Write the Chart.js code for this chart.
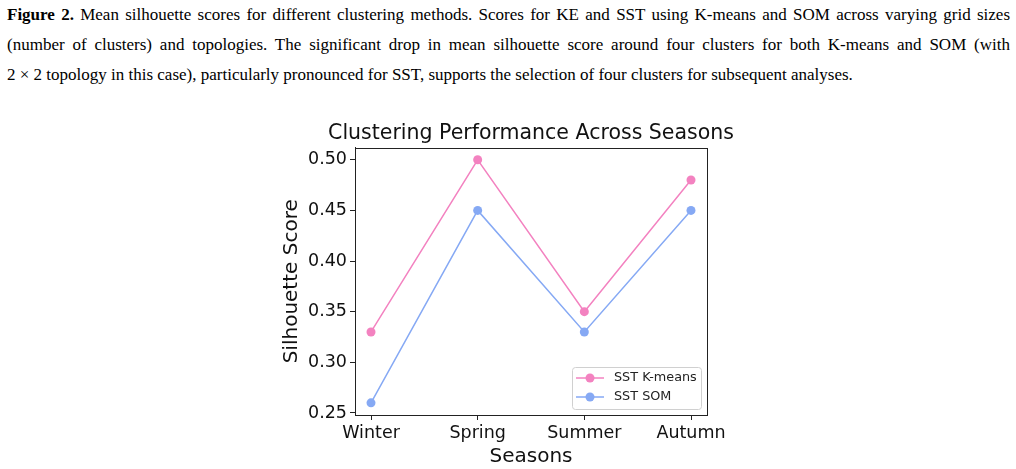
<!DOCTYPE html>
<html>
<head>
<meta charset="utf-8">
<script src="https://cdn.jsdelivr.net/npm/chart.js@4"></script>
<style>
  html, body { margin: 0; padding: 0; background: #fff; }
  body { width: 1016px; height: 469px; position: relative; overflow: hidden; }
  #caption {
    position: absolute; left: 7px; top: 0px; width: 1003px;
    font-family: "Liberation Serif", "Times New Roman", serif;
    font-size: 17px; line-height: 30px; color: #000;
  }
  #caption .ln { display: block; white-space: nowrap; text-align: justify; text-align-last: justify; }
  #caption .ln.last { text-align-last: left; }
  #chartBox { position: absolute; left: 280px; top: 110px; }
</style>
</head>
<body>
<div id="caption">
  <span class="ln"><b>Figure 2.</b> Mean silhouette scores for different clustering methods. Scores for KE and SST using K-means and SOM across varying grid sizes</span>
  <span class="ln">(number of clusters) and topologies. The significant drop in mean silhouette score around four clusters for both K-means and SOM (with</span>
  <span class="ln last">2 × 2 topology in this case), particularly pronounced for SST, supports the selection of four clusters for subsequent analyses.</span>
</div>
<div id="chartBox"><canvas id="chart" width="502" height="359"></canvas></div>
<script>
// chart values
const seasons = ['Winter', 'Spring', 'Summer', 'Autumn'];
const kmeansScores = [0.33, 0.50, 0.35, 0.48];
const somScores = [0.26, 0.45, 0.33, 0.45];
const yTicks = [0.25, 0.30, 0.35, 0.40, 0.45, 0.50];

const pink = '#f382c0';
const blue = '#86a9f4';
const font = 'DejaVu Sans';

const toPoints = (vals) => vals.map((v, i) => ({ x: i, y: v }));

// full box around the plot, like matplotlib spines
const frame = {
    id: 'frame',
    afterDatasetsDraw(chart) {
        const a = chart.chartArea;
        const c = chart.ctx;
        c.save();
        c.strokeStyle = '#222';
        c.lineWidth = 1;
        c.strokeRect(Math.round(a.left) + 0.5, Math.round(a.top) + 0.5,
            Math.round(a.right - a.left), Math.round(a.bottom - a.top));
        c.restore();
    }
};

// legend drawn inside the lower right corner
const innerLegend = {
    id: 'innerLegend',
    afterDraw(chart) {
        const a = chart.chartArea;
        const c = chart.ctx;
        const w = 129, h = 42;
        const x0 = a.right - 6 - w, y0 = a.bottom - 6 - h;
        c.save();
        c.fillStyle = 'rgba(255,255,255,0.85)';
        c.strokeStyle = '#d0d0d0';
        c.lineWidth = 1;
        c.beginPath();
        c.roundRect(x0 + 0.5, y0 + 0.5, w, h, 3);
        c.fill();
        c.stroke();
        c.font = '12.8px "' + font + '"';
        c.textBaseline = 'middle';
        chart.data.datasets.forEach((ds, i) => {
            const cy = y0 + 11 + i * 19;
            c.strokeStyle = ds.borderColor;
            c.lineWidth = 1.5;
            c.beginPath();
            c.moveTo(x0 + 4, cy);
            c.lineTo(x0 + 32, cy);
            c.stroke();
            c.fillStyle = ds.backgroundColor;
            c.beginPath();
            c.arc(x0 + 18, cy, 4.5, 0, Math.PI * 2);
            c.fill();
            c.fillStyle = '#222';
            c.fillText(ds.label, x0 + 42, cy);
        });
        c.restore();
    }
};

new Chart(document.getElementById('chart'), {
    type: 'line',
    data: {
        datasets: [
            { label: 'SST K-means', data: toPoints(kmeansScores), borderColor: pink, backgroundColor: pink,
              borderWidth: 1.5, pointRadius: 4.5, pointBorderWidth: 0, pointHoverRadius: 4.5 },
            { label: 'SST SOM', data: toPoints(somScores), borderColor: blue, backgroundColor: blue,
              borderWidth: 1.5, pointRadius: 4.5, pointBorderWidth: 0, pointHoverRadius: 4.5 }
        ]
    },
    plugins: [frame, innerLegend],
    options: {
        responsive: false,
        animation: false,
        events: [],
        layout: { padding: 0 },
        plugins: {
            legend: { display: false },
            tooltip: { enabled: false },
            title: {
                display: true,
                text: 'Clustering Performance Across Seasons',
                color: '#111',
                font: { family: font, size: 20.5, weight: 'normal', lineHeight: 1.2 },
                padding: { top: 11, bottom: 2 }
            }
        },
        scales: {
            x: {
                type: 'linear',
                min: -0.15,
                max: 3.15,
                afterBuildTicks: (s) => { s.ticks = seasons.map((_, i) => ({ value: i })); },
                afterFit: (s) => { s.height = 54; },
                ticks: {
                    callback: (v) => seasons[v],
                    color: '#111',
                    padding: 3,
                    font: { family: font, size: 17.5 }
                },
                grid: { drawOnChartArea: false, tickLength: 5, tickColor: '#222' },
                border: { display: true, color: '#222' },
                title: {
                    display: true, text: 'Seasons', color: '#111',
                    font: { family: font, size: 20 },
                    padding: { top: 0, bottom: 0 }
                }
            },
            y: {
                min: 0.248,
                max: 0.512,
                afterBuildTicks: (s) => { s.ticks = yTicks.map(v => ({ value: v })); },
                afterFit: (s) => { s.width = 75; },
                ticks: {
                    callback: (v) => v.toFixed(2),
                    color: '#111',
                    padding: 3,
                    font: { family: font, size: 17.5 }
                },
                grid: { drawOnChartArea: false, tickLength: 5, tickColor: '#222' },
                border: { display: true, color: '#222' },
                title: {
                    display: true, text: 'Silhouette Score', color: '#111',
                    font: { family: font, size: 20 },
                    padding: { top: 0, bottom: 0 }
                }
            },
            // empty right-hand spacer so the title centres over the plot
            yRight: {
                position: 'right',
                min: 0.248,
                max: 0.512,
                afterFit: (s) => { s.width = 75; },
                ticks: { display: false },
                grid: { display: false },
                border: { display: false }
            }
        }
    }
});
</script>
</body>
</html>
